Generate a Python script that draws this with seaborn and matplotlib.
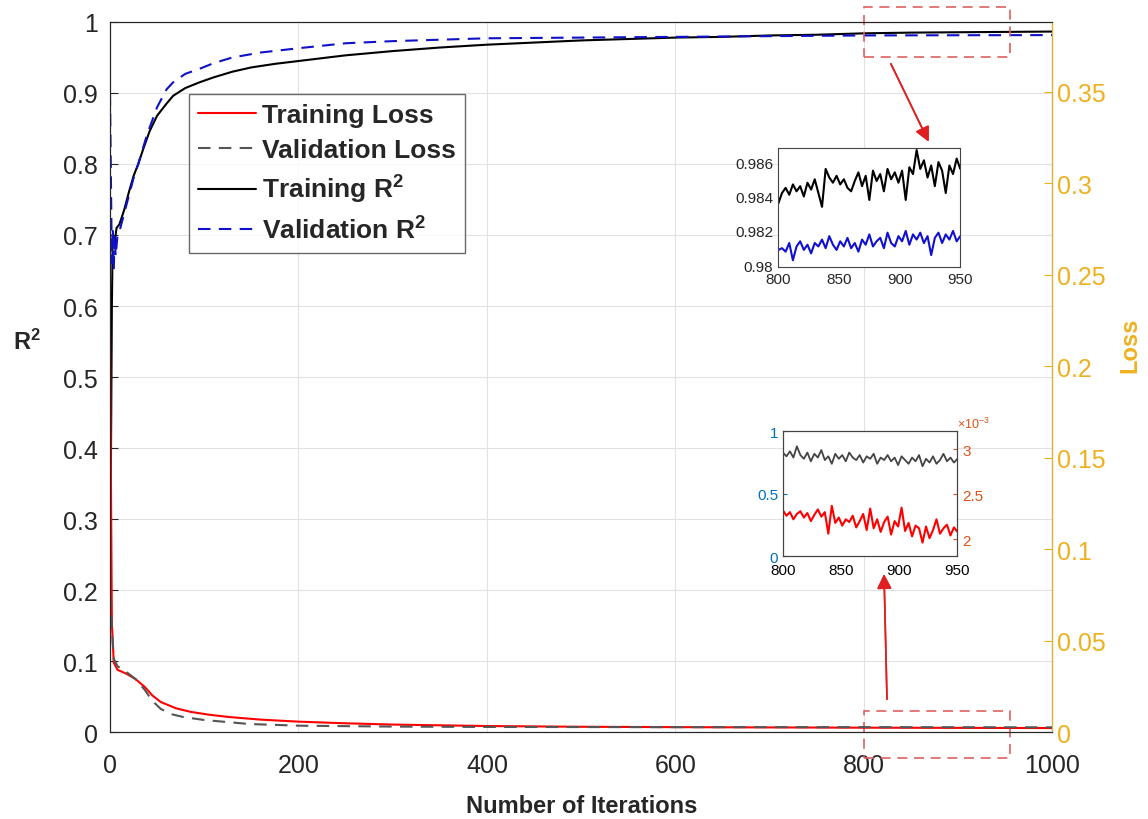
import numpy as np
import pandas as pd
import matplotlib
matplotlib.use('Agg')
import matplotlib.pyplot as plt
import seaborn as sns
from matplotlib.patches import Rectangle

it_train_r2 = [0, 2, 3, 5, 7, 10, 15, 20, 25, 30, 35, 42, 50, 60, 67, 80, 95, 110, 130, 150,
               175, 200, 225, 250, 275, 300, 350, 400, 450, 500, 550, 600, 650, 700, 750,
               800, 850, 900, 950, 1000]
train_r2 = [0.15, 0.60, 0.70, 0.69, 0.71, 0.715, 0.735, 0.76, 0.783, 0.80, 0.82, 0.846, 0.868,
            0.885, 0.896, 0.907, 0.915, 0.922, 0.930, 0.936, 0.941, 0.945, 0.949, 0.953, 0.956,
            0.959, 0.964, 0.968, 0.971, 0.974, 0.976, 0.978, 0.979, 0.981, 0.982, 0.984, 0.985,
            0.9855, 0.986, 0.9865]

it_val_r2 = [0, 2, 3, 4, 5, 6, 8, 10, 15, 20, 25, 30, 39, 50, 60, 67, 80, 95, 110, 130, 160,
             200, 250, 300, 350, 400, 500, 600, 700, 800, 900, 1000]
val_r2 = [0.90, 0.66, 0.71, 0.65, 0.70, 0.67, 0.70, 0.705, 0.73, 0.755, 0.78, 0.80, 0.84, 0.88,
          0.905, 0.915, 0.927, 0.934, 0.942, 0.950, 0.957, 0.963, 0.970, 0.973, 0.975, 0.977,
          0.978, 0.979, 0.980, 0.981, 0.9813, 0.9815]

it_loss = [0, 2, 4, 8, 17, 27, 37, 45, 54, 70, 86, 105, 127, 160, 200, 250, 300, 400, 500, 600,
           800, 1000]
train_loss = [0.221, 0.06, 0.038, 0.034, 0.032, 0.029, 0.0246, 0.020, 0.0164, 0.0130, 0.011,
              0.0095, 0.0082, 0.0068, 0.0057, 0.0048, 0.0041, 0.0033, 0.0029, 0.0027, 0.0024,
              0.0022]

it_val_loss = [0, 4, 8, 17, 27, 37, 45, 54, 65, 78, 100, 148, 200, 300, 400, 600, 800, 1000]
val_loss = [0.075, 0.040, 0.036, 0.033, 0.029, 0.023, 0.017, 0.0126, 0.0098, 0.0082, 0.0066,
            0.0044, 0.0035, 0.0030, 0.0028, 0.0027, 0.0027, 0.0026]

# zoom 800-950
black_zoom = [0.9836, 0.9842, 0.9845, 0.9841, 0.9847, 0.9843, 0.9846, 0.9840, 0.9848, 0.9844,
              0.9850, 0.9842, 0.9834, 0.9856, 0.9851, 0.9848, 0.9852, 0.9847, 0.9850, 0.9845,
              0.9843, 0.9849, 0.9854, 0.9846, 0.9852, 0.9838, 0.9855, 0.9849, 0.9853, 0.9843,
              0.9856, 0.9850, 0.9854, 0.9848, 0.9855, 0.9838, 0.9857, 0.9853, 0.9867, 0.9856,
              0.9861, 0.9851, 0.9858, 0.9846, 0.9860, 0.9855, 0.9842, 0.9858, 0.9853, 0.9862,
              0.9856]
blue_zoom = [0.9809, 0.9810, 0.9808, 0.9813, 0.9803, 0.9811, 0.9814, 0.9809, 0.9812, 0.9807,
             0.9813, 0.9811, 0.9815, 0.9810, 0.9817, 0.9812, 0.9809, 0.9814, 0.9811, 0.9816,
             0.9810, 0.9813, 0.9808, 0.9815, 0.9812, 0.9818, 0.9811, 0.9814, 0.9816, 0.9810,
             0.9819, 0.9813, 0.9811, 0.9817, 0.9814, 0.9820, 0.9812, 0.9818, 0.9815, 0.9819,
             0.9813, 0.9817, 0.9806, 0.9816, 0.9819, 0.9813, 0.9818, 0.9815, 0.9820, 0.9814,
             0.9817]
gray_zoom = [0.83, 0.80, 0.84, 0.79, 0.88, 0.81, 0.78, 0.83, 0.76, 0.82, 0.79, 0.85, 0.77, 0.80,
             0.74, 0.82, 0.78, 0.81, 0.76, 0.83, 0.79, 0.77, 0.81, 0.75, 0.80, 0.78, 0.82, 0.74,
             0.79, 0.77, 0.81, 0.76, 0.79, 0.73, 0.80, 0.77, 0.74, 0.79, 0.76, 0.81, 0.72, 0.78,
             0.75, 0.80, 0.74, 0.77, 0.82, 0.76, 0.79, 0.75, 0.78]
red_zoom = [2.32, 2.26, 2.30, 2.22, 2.28, 2.31, 2.24, 2.29, 2.20, 2.27, 2.33, 2.25, 2.30, 2.06,
            2.37, 2.18, 2.24, 2.15, 2.22, 2.19, 2.26, 2.13, 2.20, 2.28, 2.10, 2.34, 2.12, 2.22,
            2.08, 2.19, 2.25, 2.05, 2.20, 2.14, 2.35, 2.09, 2.18, 2.03, 2.15, 2.12, 1.96, 2.14,
            2.01, 2.10, 2.22, 2.06, 2.12, 2.16, 2.04, 2.13, 2.08]
red_zoom = [v * 1e-3 for v in red_zoom]

gold = '#EDB120'
sns.set_style('white')
plt.rcParams['font.family'] = ['Liberation Sans', 'DejaVu Sans']
plt.rcParams['mathtext.fontset'] = 'custom'
plt.rcParams['mathtext.rm'] = 'Liberation Sans'
plt.rcParams['mathtext.bf'] = 'Liberation Sans:bold'
plt.rcParams['xtick.direction'] = 'in'
plt.rcParams['ytick.direction'] = 'in'

fig = plt.figure(figsize=(11.48, 8.2), dpi=100)
ax = fig.add_axes([0.0958, 0.106, 0.821, 0.866])
ax2 = ax.twinx()

sns.lineplot(x=it_train_r2, y=train_r2, ax=ax, color='black', lw=1.5, estimator=None, label='Training $\\mathbf{R^2}$')
sns.lineplot(x=it_val_r2, y=val_r2, ax=ax, color='#1010c8', lw=1.5, estimator=None, label='Validation $\\mathbf{R^2}$')
ax.lines[-1].set_linestyle((0, (6, 4)))
sns.lineplot(x=it_loss, y=train_loss, ax=ax2, color='red', lw=1.5, estimator=None, label='Training Loss')
sns.lineplot(x=it_val_loss, y=val_loss, ax=ax2, color='#555555', lw=1.5, estimator=None, label='Validation Loss')
ax2.lines[-1].set_linestyle((0, (6, 4)))

ax.set_xlim(0, 1000)
ax.set_ylim(0, 1)
ax2.set_ylim(0, 0.388)
ax.set_xticks([0, 200, 400, 600, 800, 1000])
ax.set_yticks(np.arange(0, 1.01, 0.1))
ax.set_yticklabels(['0', '0.1', '0.2', '0.3', '0.4', '0.5', '0.6', '0.7', '0.8', '0.9', '1'])
ax2.set_yticks(np.arange(0, 0.36, 0.05))
ax2.set_yticklabels(['0', '0.05', '0.1', '0.15', '0.2', '0.25', '0.3', '0.35'])
ax.tick_params(labelsize=18, length=6, width=0.8, top=False)
ax.tick_params(axis='x', pad=15)
ax.tick_params(axis='y', pad=8.5)
ax2.tick_params(labelsize=18, length=6, width=0.8, colors=gold, pad=3)
ax.grid(True, color='#e2e2e2', lw=0.8)
ax.set_axisbelow(True)
for s in ax.spines.values():
    s.set_color('#333333')
ax2.spines['right'].set_color(gold)

ax.set_xlabel('Number of Iterations', fontsize=17, fontweight='bold', labelpad=12)
ax.set_ylabel('R$\\mathbf{^2}$', fontsize=17, fontweight='bold', rotation=0, va='center')
ax.yaxis.set_label_coords(-0.088, 0.55)
ax2.set_ylabel('Loss', fontsize=17, fontweight='bold', color=gold, va='center')
ax2.yaxis.set_label_coords(1.082, 0.546)

h1, l1 = ax.get_legend_handles_labels()
h2, l2 = ax2.get_legend_handles_labels()
ax2.get_legend().remove()
ax.get_legend().remove()
leg = ax2.legend(h2 + h1, l2 + l1, loc='upper left', bbox_to_anchor=(0.084, 0.899),
                 prop={'weight': 'bold', 'size': 19}, frameon=True, fancybox=False,
                 handlelength=2.2, handletextpad=0.2, borderpad=0.35, labelspacing=0.42,
                 borderaxespad=0)
leg.get_frame().set_edgecolor('#444444')
leg.get_frame().set_linewidth(1.0)

# riquadri tratteggiati
ax.add_patch(Rectangle((800, 0.951), 155, 0.07, fill=False, ls=(0, (6, 4)), ec='#e06060', lw=1.2, clip_on=False, zorder=5))
ax.add_patch(Rectangle((800, -0.037), 155, 0.067, fill=False, ls=(0, (6, 4)), ec='#e06060', lw=1.2, clip_on=False, zorder=5))

# inset R2
ins1 = fig.add_axes([0.678, 0.673, 0.1585, 0.145])
xz = np.linspace(800, 950, len(black_zoom))
sns.lineplot(x=xz, y=black_zoom, ax=ins1, color='black', lw=1.5, estimator=None)
sns.lineplot(x=np.linspace(800, 950, len(blue_zoom)), y=blue_zoom, ax=ins1, color='#1010d0', lw=1.5, estimator=None)
ins1.set_xlim(800, 950)
ins1.set_ylim(0.9799, 0.9868)
ins1.set_xticks([800, 850, 900, 950])
ins1.set_yticks([0.98, 0.982, 0.984, 0.986])
ins1.set_yticklabels(['0.98', '0.982', '0.984', '0.986'])
ins1.tick_params(labelsize=11, length=3)
for s in ins1.spines.values():
    s.set_color('#444444')

# inset loss
ins2 = fig.add_axes([0.682, 0.3207, 0.152, 0.152])
ins2b = ins2.twinx()
sns.lineplot(x=np.linspace(800, 950, len(gray_zoom)), y=gray_zoom, ax=ins2, color='#444444', lw=1.3, estimator=None)
sns.lineplot(x=np.linspace(800, 950, len(red_zoom)), y=red_zoom, ax=ins2b, color='red', lw=1.5, estimator=None)
ins2.set_xlim(800, 950)
ins2.set_ylim(0, 1)
ins2b.set_ylim(1.811e-3, 3.2e-3)
ins2.set_xticks([800, 850, 900, 950])
ins2.set_yticks([0, 0.5, 1])
ins2.set_yticklabels(['0', '0.5', '1'])
ins2b.set_yticks([2e-3, 2.5e-3, 3e-3])
ins2b.set_yticklabels(['2', '2.5', '3'])
ins2.tick_params(labelsize=11, length=3)
ins2.tick_params(axis='y', colors='#0072BD')
ins2.tick_params(axis='x', colors='black', pad=5)
ins2b.tick_params(labelsize=11, length=3, colors='#D95319')
for s in ins2b.spines.values():
    s.set_color('#444444')
ins2.text(1.0, 1.03, r'$\times10^{-3}$', transform=ins2.transAxes, fontsize=9, color='#D95319')

# frecce
fig.add_artist(plt.annotate('', xy=(0.810, 0.823), xytext=(0.775, 0.924), xycoords='figure fraction',
                            arrowprops=dict(arrowstyle='-|>', color='#e02020', lw=1.2, mutation_scale=22)))
fig.add_artist(plt.annotate('', xy=(0.770, 0.302), xytext=(0.7727, 0.1427), xycoords='figure fraction',
                            arrowprops=dict(arrowstyle='-|>', color='#e02020', lw=1.2, mutation_scale=22)))

fig.savefig('out.png', dpi=100)
